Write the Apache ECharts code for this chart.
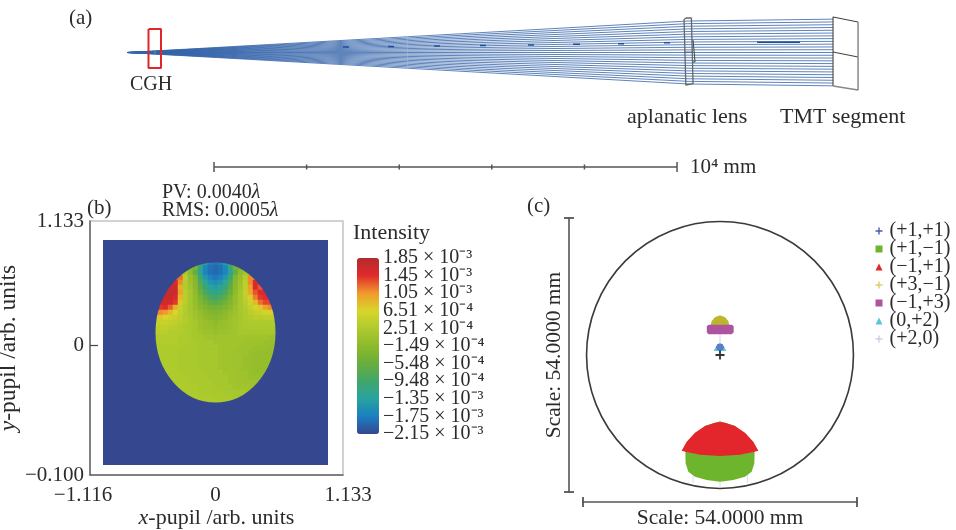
<!DOCTYPE html>
<html><head><meta charset="utf-8">
<style>html,body{margin:0;padding:0;background:#fff}#c{width:956px;height:530px}</style>
<script src="https://cdn.jsdelivr.net/npm/echarts@6/dist/echarts.min.js"></script>
</head><body><div id="c"></div>
<script>
// ---------- panel (a): layout of the optical train, in mm ----------
const sourceX = -1879, lensX = 10238, segmentX = 13369;
const rayAtLens = [680,623,567,510,453,397,340,283,227,170,113,57,0,-57,-113,-170,-227,-283,-340,-397,-453,-510,-567,-623,-680];
const rayAtSegment = [720,660,600,540,480,420,360,300,240,180,120,60,0,-60,-120,-180,-240,-300,-360,-420,-480,-540,-600,-660,-720];
const darkDashes = [[2786,119],[2916,119],'-',[3758,130],[3888,130],'-',[4752,140],[4881,140],'-',[5745,151],[5875,151],'-',[6782,162],[6911,162],'-',[7754,177],[7905,177],'-',[8726,190],[8855,190],'-',[9719,212],[9849,212],'-',[11728,220],[12657,220]];
const cghBox = [[-1415,507],[-1145,507],[-1145,-335],[-1415,-335],[-1415,507]];
const cghPlate = [[-1274,45],[-1274,-45]];
const lensOutline = [[10190,745],[10310,745],[10346,710],[10346,-670],[10310,-702],[10190,-702],[10151,-670],[10151,710],[10190,745]];
const lensBack = [[10346,270],[10389,270],[10389,-205],[10346,-205]];
const lensAxis = [[10151,10],[10346,10]];
const segmentFront = [[13909,659],[13369,767],[13369,-724]];
const segmentDivide = [[13369,10],[13909,-97]];
const segmentBack = [[13909,659],[13909,-810],[13369,-724]];
const scaleBarY = -2473;
const scaleTicks = [0,2000,4000,6000,8000,10000];

// ---------- panel (b): wavefront map, unit 1e-5 wave, rows centred on the pupil ----------
const firstPupilRow = 4, pupilCentreCol = 22;
const pupilRows = [
[-120,-170,-180,-170,-120],
[-30,-110,-165,-185,-190,-185,-165,-110,-40],
[15,-10,-60,-130,-170,-185,-190,-185,-170,-130,-60,-10,10],
[120,35,0,-30,-100,-150,-170,-180,-170,-150,-100,-30,0,30,110],
[150,110,30,5,-20,-80,-125,-150,-160,-150,-125,-80,-20,5,40,110,150],
[160,160,90,30,10,-15,-65,-105,-130,-140,-130,-105,-65,-15,10,40,100,150,130],
[165,165,100,35,15,-10,-50,-85,-110,-120,-110,-85,-50,-10,15,45,95,130,150],
[165,165,150,85,35,15,-5,-35,-65,-85,-95,-85,-65,-35,-5,15,40,70,115,140,145],
[160,160,140,75,35,15,-5,-25,-45,-60,-70,-60,-45,-25,-5,15,35,55,85,120,135],
[140,145,125,90,50,30,15,0,-15,-30,-40,-45,-40,-30,-15,0,15,30,45,60,75,100,110],
[110,105,85,65,45,30,15,5,-5,-15,-25,-30,-25,-15,-5,5,15,25,35,45,50,60,70],
[75,65,55,50,40,30,20,10,0,-10,-15,-20,-15,-10,0,10,15,25,30,35,35,40,40],
[50,50,45,40,35,30,20,15,5,0,-5,-10,-5,0,5,10,15,20,25,25,25,25,25],
[40,40,40,35,35,30,25,20,15,5,0,0,-5,0,0,5,10,15,20,20,20,20,20,20,20],
[35,35,35,30,30,30,25,20,15,10,5,5,0,5,5,10,10,15,15,15,15,15,15,15,15],
[30,30,30,30,30,25,25,20,15,15,10,10,5,10,10,10,10,10,10,10,10,10,10,5,5],
[28,28,28,28,25,25,20,20,15,15,15,10,10,10,10,10,10,5,5,5,5,0,0],
[25,25,25,25,25,20,20,20,15,15,15,15,10,10,10,10,5,5,5,0,0,0,-5],
[25,25,25,25,20,20,20,20,15,15,15,15,10,10,10,5,5,5,0,0,-5,-5,-5],
[25,25,25,25,20,20,20,20,15,15,15,15,10,10,10,5,5,0,0,-5,-5,-5,-5],
[25,25,25,20,20,20,20,15,15,15,15,10,10,10,5,5,0,0,-5,-5,-5],
[25,25,25,20,20,20,20,15,15,15,15,10,10,10,5,5,0,0,-5,-5,-5],
[25,25,25,25,20,20,20,20,15,15,15,15,10,10,10,5,5,0,-5,-5,-5],
[25,25,25,25,20,20,20,20,15,15,15,15,10,10,5,5,0,0,0],
[25,25,25,20,20,20,20,20,15,15,15,10,10,10,5,5,5],
[25,25,25,25,20,20,20,15,15,15,15,10,10,10,10],
[25,25,25,20,20,20,20,20,15,15,15,15,15],
[25,25,25,25,25,20,20,20,20,15,15],
[25,25,25,20,20]];
const cellCount = 45;
const bgColor = '#35478f';
const pupilEdge = [22, 18, 12, 14.3]; // centre col, centre row, half width, half height (cells)
const colorStops = ['#35478f','#1b7fc2','#27a3a0','#41a66a','#68ae3c','#8cb92c','#aecb2d','#d8d52b','#ef9a2b','#e02a2c','#b22b2e'];
const colorbarTicks = [185,145,105,65.1,25.1,-14.9,-54.8,-94.8,-135,-175,-215];
const colorbarLabels = ['1.85 × 10⁻³','1.45 × 10⁻³','1.05 × 10⁻³','6.51 × 10⁻⁴','2.51 × 10⁻⁴','−1.49 × 10⁻⁴','−5.48 × 10⁻⁴','−9.48 × 10⁻⁴','−1.35 × 10⁻³','−1.75 × 10⁻³','−2.15 × 10⁻³'];
const xPupilTicks = [-1.116,0,1.133];
const xPupilLabels = ['{l|−1.116}','0','{r|1.133}'];
const yPupilTicks = [-1.188,0,1.133];
const yPupilLabels = ['−0.100','0','1.133'];

// ---------- panel (c): spot diagram, mm on the image plane ----------
const circleRadius = 26.3;
const legendNames = ['(+1,+1)','(+1,−1)','(−1,+1)','(+3,−1)','(−1,+3)','(0,+2)','(+2,0)'];
const plusIcon = 'path://M4 0h2v4h4v2h-4v4h-2v-4h-4v-2h4z';
const legendIcons = [plusIcon,'rect','triangle',plusIcon,'rect','triangle',plusIcon];
const legendColors = ['#4f5ca8','#6eb52e','#e2262c','#d9cf6a','#ad539f','#5cc6d6','#cfcde4'];
const spotFills = ['#5a7fc6','#6eb52e','#e2262c','#bdb52b','#ad539f','#5cc6d6','#dcdce6'];
const spot11 = [[[0,2.3],[0.55,2.1],[0.8,1.55],[0.55,1.0],[0,0.75],[-0.55,1.0],[-0.8,1.55],[-0.55,2.1]]];
const spot1m1 = [[[-6.83,-19.05],[-6.77,-21.35],[-6.24,-23.0],[-4.93,-23.98],[-2.63,-24.64],[0,-24.97],[2.63,-24.64],[4.93,-23.98],[6.24,-23.0],[6.77,-21.35],[6.83,-19.05],[3,-14],[0,-13.07],[-3,-14]]];
const spotM11 = [[[-7.56,-18.86],[-6.57,-17.08],[-4.93,-15.31],[-2.96,-13.99],[-0.99,-13.34],[0,-13.21],[0.99,-13.34],[2.96,-13.99],[4.93,-15.31],[6.57,-17.08],[7.56,-18.86],[6.57,-19.12],[3.94,-19.65],[0,-19.91],[-3.94,-19.65],[-6.57,-19.12]]];
const spot3m1 = [[[-1.64,6.7],[-1.0,7.43],[0,7.82],[1.0,7.43],[1.64,6.7],[1.84,5.9],[-1.84,5.9]]];
const spotM13 = [[[-2.6,5.6],[-2.3,5.95],[2.4,5.95],[2.7,5.6],[2.7,4.5],[2.3,4.1],[-2.3,4.1],[-2.6,4.5]]];
const spot02 = [[[-1.25,0.8],[1.25,0.8],[0.7,1.75],[-0.7,1.75]]];
const spot20 = [[[-0.12,4.1],[0.12,4.1],[0.12,1.5],[-0.12,1.5]],[[-5.4,-23.4],[-5.2,-23.4],[-5.2,-25.2],[-5.4,-25.2]],[[-0.1,-24.9],[0.1,-24.9],[0.1,-26],[-0.1,-26]],[[5.3,-23.4],[5.5,-23.4],[5.5,-25.2],[5.3,-25.2]]];
const spotShapes = [spot11,spot1m1,spotM11,spot3m1,spotM13,spot02,spot20];
const spotZ = [8,4,5,6,7,7,3];
const chiefRay = [[0,0]];

// ---------- free text ----------
const serif = '"Liberation Serif"';
const ink = '#2b2b2b';
const freeTexts = [
  ['(a)',69,18,21],['CGH',130,85,20],['aplanatic lens',627,117,22],['TMT segment',780,117,22],
  ['10⁴ mm',690,167,21],['PV: 0.0040{i|λ}',162,193,20],['RMS: 0.0005{i|λ}',162,211,20],['(b)',87,208,21],
  ['Intensity',353,233,22],['(c)',527,206,21]
];

// ---------- option ----------
const heatData = [];
pupilRows.forEach((row, r) => {
  const first = pupilCentreCol - (row.length - 1) / 2;
  row.forEach((v, j) => heatData.push([first + j, firstPupilRow + r, v]));
  heatData.push([first - 1, firstPupilRow + r, row[0]]);              // one cell of bleed under the smooth edge
  heatData.push([first + row.length, firstPupilRow + r, row[row.length - 1]]);
});
const cats = Array.from({length: cellCount}, (_, i) => i);

const lineIn = (data, color, width) => ({type:'line', xAxisIndex:0, yAxisIndex:0, data, showSymbol:false, symbol:'none', silent:true, z:5, connectNulls:false, lineStyle:{color, width}});
const raySeries = rayAtSegment.map((y, i) => ({type:'line', xAxisIndex:0, yAxisIndex:0, showSymbol:false, symbol:'none', silent:true, z:3,
  data:[[sourceX,0],[lensX,rayAtLens[i]],[segmentX,y]], lineStyle:{color:'#3463aa', width:0.8}}));

const spotSeries = legendNames.map((name, s) => {
  const polys = spotShapes[s];
  return {type:'custom', name, xAxisIndex:3, yAxisIndex:3, silent:true, z:spotZ[s], itemStyle:{color:legendColors[s]},
    data: polys.map((p, i) => [p[0][0], p[0][1], i]), encode:{x:0, y:1},
    renderItem:(params, api) => ({type:'polygon', shape:{points: polys[api.value(2)].map(pt => api.coord(pt))}, style:{fill:spotFills[s]}})};
});

// colour-bar labels sit closer than their own height, so they alternate between two axes
const colorbarAxis = keep => ({gridIndex:4, type:'value', min:-215, max:185, position:'right', splitLine:{show:false},
  axisLine:{show:false}, axisTick:{show:false},
  axisLabel:{customValues:colorbarTicks.filter((_, i) => i % 2 === keep), showMinLabel:true, showMaxLabel:true, fontSize:20, color:ink, margin:4, align:'left',
    formatter:v => colorbarLabels[colorbarTicks.indexOf(v)]}});

const option = {
  animation:false,
  textStyle:{fontFamily:serif, color:ink},
  grid:[
    {left:98.25, top:1.57, width:764, height:175.94, outerBoundsMode:'none'},
    {left:90, top:221, width:253, height:254, show:true, borderColor:'#c4c4c4', borderWidth:1.5, backgroundColor:'#fff', outerBoundsMode:'none'},
    {left:103, top:240, width:225, height:225, show:true, borderWidth:0, backgroundColor:bgColor, outerBoundsMode:'none'},
    {left:583, top:218, width:274, height:274, outerBoundsMode:'none'},
    {left:378, top:258, width:1, height:176, outerBoundsMode:'none'}
  ],
  xAxis:[
    {gridIndex:0, type:'value', show:false, min:-2500, max:14000},
    {gridIndex:1, type:'value', min:-1.116, max:1.133, splitLine:{show:false},
      axisLine:{onZero:false, lineStyle:{color:'#666', width:1.5}}, axisTick:{show:false},
      axisLabel:{customValues:xPupilTicks, fontSize:21, color:ink, margin:10, formatter:v => xPupilLabels[xPupilTicks.indexOf(v)],
        rich:{l:{fontSize:21, fontFamily:serif, color:ink, padding:[0,14,0,0]}, r:{fontSize:21, fontFamily:serif, color:ink, padding:[0,0,0,10]}}},
      name:'{i|x}-pupil /arb. units', nameLocation:'middle', nameGap:31,
      nameTextStyle:{fontSize:22, fontFamily:serif, color:ink, rich:{i:{fontStyle:'italic', fontSize:22, fontFamily:serif, color:ink}}}},
    {gridIndex:2, type:'category', data:cats, show:false},
    {gridIndex:3, type:'value', min:-27, max:27, interval:54, position:'bottom', offset:10, splitLine:{show:false},
      axisLine:{onZero:false, symbol:['rect','rect'], symbolSize:[10,1.8], lineStyle:{color:'#555', width:1.6}}, axisTick:{show:false}, axisLabel:{show:false},
      name:'Scale: 54.0000 mm', nameLocation:'middle', nameGap:5, nameTextStyle:{fontSize:21.5, fontFamily:serif, color:ink}},
    {gridIndex:4, type:'value', show:false, min:0, max:1}
  ],
  yAxis:[
    {gridIndex:0, type:'value', show:false, min:-2700, max:1100},
    {gridIndex:1, type:'value', min:-1.188, max:1.133, splitLine:{show:false},
      axisLine:{onZero:false, lineStyle:{color:'#666', width:1.5}},
      axisTick:{show:true, inside:true, length:8, customValues:[0], lineStyle:{color:'#444', width:1.2}},
      axisLabel:{customValues:yPupilTicks, fontSize:21, color:ink, margin:6, formatter:v => yPupilLabels[yPupilTicks.indexOf(v)]},
      name:'{i|y}-pupil /arb. units', nameLocation:'middle', nameGap:60,
      nameTextStyle:{fontSize:23.5, fontFamily:serif, color:ink, rich:{i:{fontStyle:'italic', fontSize:23.5, fontFamily:serif, color:ink}}}},
    {gridIndex:2, type:'category', data:cats, show:false, inverse:true},
    {gridIndex:3, type:'value', min:-27, max:27, interval:54, position:'left', offset:14, splitLine:{show:false},
      axisLine:{onZero:false, symbol:['rect','rect'], symbolSize:[10,1.8], lineStyle:{color:'#555', width:1.6}}, axisTick:{show:false}, axisLabel:{show:false},
      name:'Scale: 54.0000 mm', nameLocation:'middle', nameGap:4, nameTextStyle:{fontSize:21.5, fontFamily:serif, color:ink}},
    colorbarAxis(0),
    colorbarAxis(1)
  ],
  visualMap:[{type:'continuous', seriesIndex:0, min:-215, max:185, left:357, top:258, itemWidth:22, itemHeight:176, padding:0, calculable:false, borderWidth:0, text:null, inRange:{color:colorStops}}],
  legend:{left:875.5, top:221, orient:'vertical', itemWidth:7, itemHeight:7, itemGap:-2, padding:0, selectedMode:false,
    textStyle:{fontFamily:serif, fontSize:20, color:ink, padding:[0,0,0,2]},
    data:legendNames.map((name, i) => ({name, icon:legendIcons[i]}))},
  graphic:freeTexts.map(([text, x, y, size]) => ({type:'text', x, y, z:50, silent:true,
    style:{text, fontFamily:serif, fontSize:size, fill:ink, verticalAlign:'middle', align:'left',
      rich:{i:{fontStyle:'italic', fontFamily:serif, fontSize:size, fill:ink, verticalAlign:'middle'}}}})),
  series:[
    {type:'heatmap', xAxisIndex:2, yAxisIndex:2, data:heatData, silent:true, progressive:0, itemStyle:{borderWidth:0}},
    {type:'custom', xAxisIndex:2, yAxisIndex:2, silent:true, z:4, data:[pupilEdge], encode:{x:0, y:1},
      renderItem:(params, api) => {
        const ring = 16;
        const c = api.coord([api.value(0), api.value(1)]);
        const rx = api.coord([api.value(0) + api.value(2), api.value(1)])[0] - c[0];
        const ry = Math.abs(api.coord([api.value(0), api.value(1) + api.value(3)])[1] - c[1]);
        return {type:'ellipse', shape:{cx:c[0], cy:c[1], rx:rx + ring / 2, ry:ry + ring / 2}, style:{fill:'none', stroke:bgColor, lineWidth:ring}};
      }},
    ...raySeries,
    lineIn(darkDashes,'#1f4f9a',1.4),
    lineIn(cghPlate,'#888',1),
    lineIn(cghBox,'#e0262b',2),
    lineIn(lensOutline,'#666',1.3),
    lineIn(lensBack,'#444',1),
    lineIn(lensAxis,'#555',0.8),
    lineIn(segmentFront,'#444',1.1),
    lineIn(segmentDivide,'#444',1.1),
    lineIn(segmentBack,'#888',1.5),
    lineIn(scaleTicks.map(x => [x, scaleBarY]),'#555',1.6),
    {type:'scatter', xAxisIndex:0, yAxisIndex:0, silent:true, z:5, symbol:'rect', itemStyle:{color:'#555', opacity:1},
      symbolSize:v => (v[0] === scaleTicks[0] || v[0] === scaleTicks[scaleTicks.length-1]) ? [1.5,10] : [1.5,5],
      data:scaleTicks.map(x => [x, scaleBarY])},
    {type:'custom', xAxisIndex:3, yAxisIndex:3, silent:true, z:2, data:[[0,0,circleRadius]], encode:{x:0, y:1},
      renderItem:(params, api) => {
        const c = api.coord([api.value(0), api.value(1)]);
        return {type:'circle', shape:{cx:c[0], cy:c[1], r:api.size([api.value(2),0])[0]}, style:{fill:'none', stroke:'#3a3a3a', lineWidth:1.6}};
      }},
    ...spotSeries,
    {type:'scatter', xAxisIndex:3, yAxisIndex:3, silent:true, z:9, symbol:plusIcon, symbolSize:9, itemStyle:{color:'#333', opacity:1}, data:chiefRay}
  ]
};
const chart = echarts.init(document.getElementById('c'), null, {renderer:'canvas'});
chart.setOption(option);
</script></body></html>
